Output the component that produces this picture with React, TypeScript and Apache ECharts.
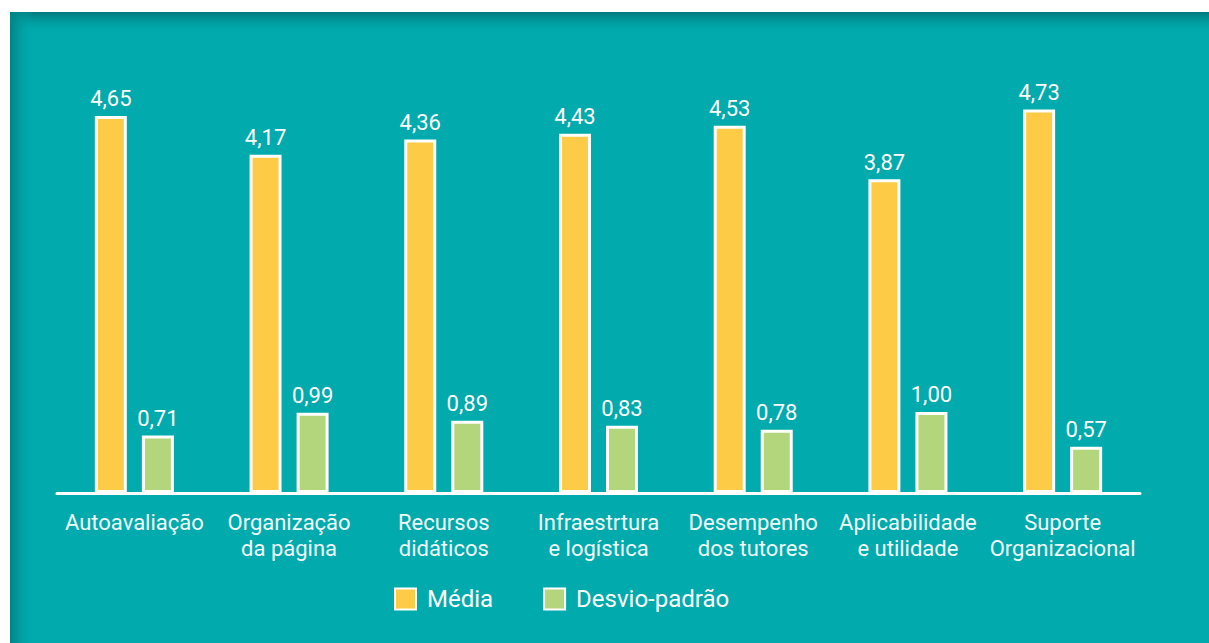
import React, { useEffect, useRef } from "react";
import * as echarts from "echarts";

const categories = [
  "Autoavaliação",
  "Organização\nda página",
  "Recursos\ndidáticos",
  "Infraestrtura\ne logística",
  "Desempenho\ndos tutores",
  "Aplicabilidade\ne utilidade",
  "Suporte\nOrganizacional",
];
const media = [4.65, 4.17, 4.36, 4.43, 4.53, 3.87, 4.73];
const desvio = [0.71, 0.99, 0.89, 0.83, 0.78, 1.0, 0.57];
const seriesNames = ["Média", "Desvio-padrão"];

const TEAL = "#00aaad";
const YELLOW = "#fdcb45";
const GREEN = "#b3d57b";
const FONT = "Roboto";

const fmt = (v: number) => v.toFixed(2).replace(".", ",");

export default function App() {
  const ref = useRef<HTMLDivElement>(null);
  useEffect(() => {
    if (!ref.current) return;
    const chart = echarts.init(ref.current, undefined, { renderer: "svg" });
    const label = {
      show: true,
      position: "top",
      distance: 6,
      color: "#ffffff",
      fontFamily: FONT,
      fontSize: 22,
      formatter: (p: any) => fmt(p.value),
    };
    chart.setOption({
      animation: false,
      backgroundColor: "#ffffff",
      graphic: [
        {
          type: "rect",
          z: -10,
          silent: true,
          shape: { x: 10, y: 12, width: 1199, height: 631 },
          style: { fill: TEAL },
        },
        {
          type: "rect",
          z: -9,
          silent: true,
          shape: { x: 10, y: 12, width: 1199, height: 22 },
          style: {
            fill: new echarts.graphic.LinearGradient(0, 0, 0, 1, [
              { offset: 0, color: "rgba(2,120,122,1)" },
              { offset: 1, color: "rgba(0,170,173,0)" },
            ]),
          },
        },
        {
          type: "rect",
          z: -9,
          silent: true,
          shape: { x: 10, y: 12, width: 24, height: 631 },
          style: {
            fill: new echarts.graphic.LinearGradient(0, 0, 1, 0, [
              { offset: 0, color: "rgba(2,130,132,1)" },
              { offset: 1, color: "rgba(0,170,173,0)" },
            ]),
          },
        },
      ],
      legend: {
        data: seriesNames,
        left: 389,
        top: 582,
        itemWidth: 21,
        itemHeight: 21,
        itemGap: 50,
        icon: "rect",
        textStyle: {
          color: "#ffffff",
          fontFamily: FONT,
          fontSize: 24,
          padding: [0, 0, 0, 6],
        },
      },
      grid: { left: 57, right: 69, top: 47, bottom: 150 },
      xAxis: {
        type: "category",
        data: categories,
        axisLine: { show: true, lineStyle: { color: "#ffffff", width: 3 } },
        axisTick: { show: false },
        axisLabel: {
          color: "#f2fbfb",
          fontFamily: FONT,
          fontSize: 22,
          lineHeight: 26,
          margin: 16,
          interval: 0,
        },
      },
      yAxis: {
        type: "value",
        min: 0,
        max: 5.5,
        show: false,
        splitLine: { show: false },
      },
      series: [
        {
          name: seriesNames[0],
          type: "bar",
          data: media,
          barWidth: 32,
          barGap: "47%",
          itemStyle: { color: YELLOW, borderColor: "#ffffff", borderWidth: 3 },
          label,
        },
        {
          name: seriesNames[1],
          type: "bar",
          data: desvio,
          barWidth: 32,
          itemStyle: { color: GREEN, borderColor: "#ffffff", borderWidth: 3 },
          label,
        },
      ],
    });
    return () => chart.dispose();
  }, []);
  return (
    <div
      ref={ref}
      style={{ position: "fixed", left: 0, top: 0, width: 1209, height: 643 }}
    />
  );
}
